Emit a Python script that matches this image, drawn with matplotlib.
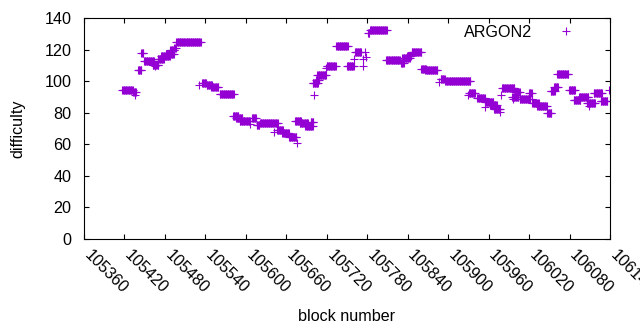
import numpy as np
import matplotlib
matplotlib.use("Agg")
import matplotlib.pyplot as plt
import matplotlib.transforms as mtransforms

# difficulty per block, stored as runs: (first block, last block, difficulty)
run_start = [105417, 105433, 105435, 105440, 105445, 105449, 105462, 105465, 105469, 105474,
             105481, 105488, 105494, 105497, 105531, 105535, 105542, 105549, 105561, 105581,
             105586, 105591, 105606, 105609, 105616, 105621, 105642, 105646, 105654, 105664,
             105676, 105673, 105680, 105688, 105696, 105701, 105699, 105704, 105706, 105719,
             105720, 105734, 105750, 105761, 105762, 105773, 105774, 105776, 105778, 105781,
             105784, 105808, 105830, 105832, 105839, 105846, 105860, 105866, 105886, 105889,
             105896, 105930, 105931, 105943, 105955, 105955, 105962, 105968, 105977, 105978,
             105980, 105995, 105996, 105999, 106006, 106020, 106025, 106025, 106032, 106047,
             106052, 106057, 106062, 106079, 106086, 106094, 106106, 106109, 106116,
             106126, 106139]
run_end = [105432, 105437, 105435, 105445, 105448, 105464, 105470, 105465, 105478, 105487,
           105493, 105494, 105496, 105533, 105531, 105541, 105550, 105559, 105582, 105589,
           105595, 105606, 105606, 105615, 105620, 105647, 105642, 105655, 105664, 105675,
           105676, 105682, 105692, 105699, 105700, 105701, 105707, 105708, 105719, 105719,
           105733, 105751, 105760, 105761, 105771, 105773, 105774, 105776, 105778, 105783,
           105809, 105828, 105834, 105843, 105845, 105860, 105867, 105884, 105886, 105895,
           105933, 105930, 105940, 105954, 105955, 105967, 105972, 105977, 105977, 105978,
           105998, 106004, 105996, 106006, 106021, 106024, 106025, 106034, 106046, 106053,
           106058, 106063, 106078, 106088, 106096, 106108, 106118, 106109, 106128,
           106136, 106139]
run_diff = [94.3, 93.0, 91.2, 107.0, 118.0, 113.0, 110.5, 109.5, 114.0, 116.0,
            117.5, 119.5, 121.0, 124.8, 97.5, 99.0, 97.8, 96.5, 91.8, 78.0,
            76.5, 74.8, 73.0, 76.5, 72.0, 73.3, 67.5, 69.0, 67.3, 64.8,
            60.7, 74.6, 73.2, 71.8, 74.3, 91.3, 98.8, 100.8, 103.8, 108.5,
            109.6, 122.0, 109.6, 114.0, 118.3, 109.8, 114.0, 118.3, 115.5, 130.5,
            132.4, 113.4, 111.3, 114.5, 116.0, 118.2, 108.0, 106.8, 99.7, 101.5,
            100.3, 91.0, 92.3, 89.2, 83.4, 86.5, 84.7, 82.2, 80.5, 91.0,
            95.6, 89.8, 88.7, 93.3, 88.6, 92.2, 89.0, 86.3, 84.0, 79.8,
            94.0, 96.5, 104.5, 94.4, 88.0, 89.8, 86.2, 84.0, 92.5,
            87.7, 94.4]

x_ticks = list(range(105360, 106141, 60))
y_ticks = list(range(0, 141, 20))

# espande le run in un punto per blocco
blocks = np.concatenate([np.arange(s, e + 1) for s, e in zip(run_start, run_end)])
diffs = np.concatenate([np.full(e - s + 1, d) for s, e, d in zip(run_start, run_end, run_diff)])

plt.rcParams["font.family"] = ["Liberation Sans", "DejaVu Sans"]
plt.rcParams["font.size"] = 11.6

fig = plt.figure(figsize=(6.4, 3.3), dpi=100)
ax = fig.add_axes([84 / 640, 1 - 239 / 330, 526 / 640, 221 / 330])

ax.plot(blocks, diffs, linestyle="none", marker="+", markersize=5.2,
        markeredgewidth=0.8, color="#9400d3", label="ARGON2")

ax.set_xlim(105360, 106140)
ax.set_ylim(0, 140)
ax.set_xticks(x_ticks)
ax.set_yticks(y_ticks)
ax.tick_params(direction="in", length=3.5, width=0.8, top=True, right=True)
ax.tick_params(axis="y", pad=9)
ax.tick_params(axis="x", pad=6)
shift = mtransforms.ScaledTranslation(0.08, 0, fig.dpi_scale_trans)
for lab in ax.get_xticklabels():
    lab.set_rotation(-45)
    lab.set_ha("left")
    lab.set_va("top")
    lab.set_rotation_mode("anchor")
    lab.set_transform(lab.get_transform() + shift)
for sp in ax.spines.values():
    sp.set_linewidth(0.8)

ax.set_xlabel("block number", labelpad=9.5)
ax.set_ylabel("difficulty", labelpad=13.5)

ax.legend(loc="upper right", bbox_to_anchor=(0.962, 0.97), markerfirst=False,
          frameon=False, borderpad=0, borderaxespad=0, handlelength=3,
          handletextpad=0.6)

fig.savefig("out.png", dpi=100)
